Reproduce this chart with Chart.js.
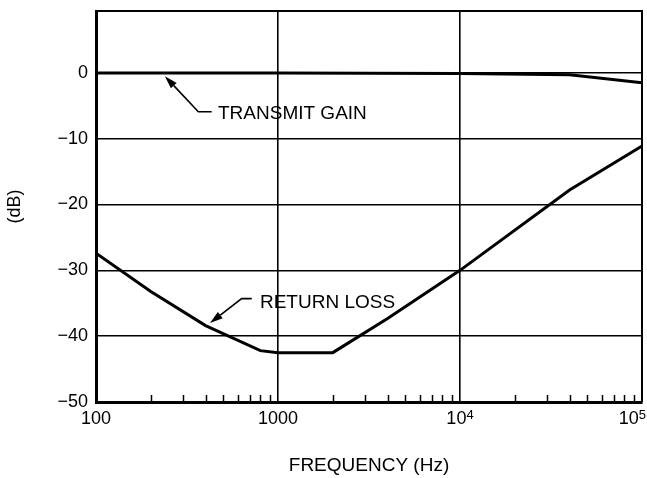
<!DOCTYPE html>
<html>
<head>
<meta charset="utf-8">
<script src="https://cdn.jsdelivr.net/npm/chart.js@4.4.0/dist/chart.umd.min.js"></script>
<style>
  html, body { margin: 0; padding: 0; background: #fff; }
  #wrap { width: 647px; height: 478px; }
</style>
</head>
<body>
<div id="wrap"><canvas id="chart" width="647" height="478"></canvas></div>
<script>
// data
const xTicks = [100, 1000, 10000, 100000];
const xTickBase = ['100', '1000', '10', '10'];
const xTickExp = ['', '', '4', '5'];
const yTicks = [0, -10, -20, -30, -40, -50];

const freqGain = [100, 1000, 10000, 40000, 100000];
const transmitGain = [0, 0, -0.1, -0.3, -1.5];

const freqLoss = [100, 200, 400, 800, 1000, 2000, 4000, 10000, 40000, 100000];
const returnLoss = [-27.4, -33.2, -38.4, -42.2, -42.5, -42.5, -37.3, -30, -17.8, -11.1];

// callout labels (in data units: Hz, dB)
const callouts = [
  { text: 'TRANSMIT GAIN', tip: [239, -0.5], elbow: [365, -5.9], end: [432, -5.9], at: [468, -5.9] },
  { text: 'RETURN LOSS', tip: [423, -38.0], elbow: [631, -34.3], end: [717, -34.3], at: [796, -34.7] }
];

const FONT = "'Liberation Sans', Arial, Helvetica, sans-serif";
const INK = '#000';

const toPoints = (xs, ys) => xs.map((v, i) => ({ x: v, y: ys[i] }));

// extra drawing: top/right frame, minor ticks, x labels with exponent, callouts
const paperPlugin = {
  id: 'paper',
  afterDatasetsDraw(chart) {
    const { ctx, chartArea: a, scales: { x, y } } = chart;
    ctx.save();
    ctx.strokeStyle = INK;
    ctx.fillStyle = INK;

    // frame top + right
    ctx.lineWidth = 2;
    ctx.beginPath();
    ctx.moveTo(a.left, a.top);
    ctx.lineTo(a.right, a.top);
    ctx.lineTo(a.right, a.bottom);
    ctx.stroke();

    // minor ticks inside bottom axis
    ctx.lineWidth = 1.5;
    ctx.beginPath();
    [100, 1000, 10000].forEach(dec => {
      for (let m = 2; m <= 9; m++) {
        const px = Math.round(x.getPixelForValue(dec * m)) + 0.5;
        ctx.moveTo(px, a.bottom);
        ctx.lineTo(px, a.bottom - 7);
      }
    });
    ctx.stroke();

    // x tick labels
    ctx.textBaseline = 'alphabetic';
    ctx.textAlign = 'left';
    xTicks.forEach((v, i) => {
      ctx.font = '18px ' + FONT;
      const wb = ctx.measureText(xTickBase[i]).width;
      ctx.font = '13px ' + FONT;
      const we = xTickExp[i] ? ctx.measureText(xTickExp[i]).width : 0;
      let left = x.getPixelForValue(v) - (wb + we) / 2;
      if (left + wb + we > chart.width - 1) left = chart.width - 1 - wb - we;
      const base = a.bottom + 22;
      ctx.font = '18px ' + FONT;
      ctx.fillText(xTickBase[i], left, base);
      if (xTickExp[i]) {
        ctx.font = '13px ' + FONT;
        ctx.fillText(xTickExp[i], left + wb, base - 5);
      }
    });

    // callouts
    callouts.forEach(c => {
      const tx = x.getPixelForValue(c.tip[0]), ty = y.getPixelForValue(c.tip[1]);
      const ex = x.getPixelForValue(c.elbow[0]), ey = y.getPixelForValue(c.elbow[1]);
      const nx = x.getPixelForValue(c.end[0]), ny = y.getPixelForValue(c.end[1]);
      let dx = tx - ex, dy = ty - ey;
      const len = Math.hypot(dx, dy);
      dx /= len; dy /= len;
      const bx = tx - dx * 13, by = ty - dy * 13;

      ctx.lineWidth = 1.6;
      ctx.beginPath();
      ctx.moveTo(nx, ny);
      ctx.lineTo(ex, ey);
      ctx.lineTo(bx, by);
      ctx.stroke();

      ctx.beginPath();
      ctx.moveTo(tx, ty);
      ctx.lineTo(bx - dy * 4, by + dx * 4);
      ctx.lineTo(bx + dy * 4, by - dx * 4);
      ctx.closePath();
      ctx.fill();

      ctx.font = '19px ' + FONT;
      ctx.fillText(c.text, x.getPixelForValue(c.at[0]), y.getPixelForValue(c.at[1]) + 0.716 * 19 / 2);
    });

    ctx.restore();
  }
};

new Chart(document.getElementById('chart'), {
  type: 'line',
  data: {
    datasets: [
      {
        label: 'TRANSMIT GAIN',
        data: toPoints(freqGain, transmitGain),
        borderColor: INK,
        borderWidth: 3,
        pointRadius: 0,
        tension: 0
      },
      {
        label: 'RETURN LOSS',
        data: toPoints(freqLoss, returnLoss),
        borderColor: INK,
        borderWidth: 3,
        pointRadius: 0,
        tension: 0
      }
    ]
  },
  options: {
    responsive: false,
    animation: false,
    devicePixelRatio: 1,
    layout: { padding: { top: 11, right: 5, bottom: 0, left: 0 } },
    plugins: {
      legend: { display: false },
      tooltip: { enabled: false }
    },
    scales: {
      x: {
        type: 'logarithmic',
        min: 100,
        max: 100000,
        afterBuildTicks: (s) => { s.ticks = xTicks.map(v => ({ value: v })); },
        afterFit: (s) => { s.height = 76; s.paddingLeft = 0; s.paddingRight = 0; },
        border: { display: true, color: INK, width: 3 },
        grid: { color: INK, lineWidth: 1.6, drawTicks: false },
        ticks: { display: false },
        title: {
          display: true,
          text: 'FREQUENCY (Hz)',
          color: INK,
          font: { family: FONT, size: 19 },
          padding: { top: 0, bottom: 1 }
        }
      },
      y: {
        type: 'linear',
        min: -50,
        max: 9.4,
        afterBuildTicks: (s) => { s.ticks = yTicks.map(v => ({ value: v })); },
        afterFit: (s) => { s.width = 96; s.paddingTop = 0; s.paddingBottom = 0; },
        border: { display: true, color: INK, width: 3 },
        grid: { color: INK, lineWidth: 1.6, drawTicks: false },
        ticks: {
          color: INK,
          padding: 8,
          font: { family: FONT, size: 18 },
          callback: (v) => (v < 0 ? '\u2212' + Math.abs(v) : String(v))
        },
        title: {
          display: true,
          text: '(dB)',
          color: INK,
          font: { family: FONT, size: 18 },
          padding: { top: 4, bottom: 0 }
        }
      }
    }
  },
  plugins: [paperPlugin]
});
</script>
</body>
</html>
